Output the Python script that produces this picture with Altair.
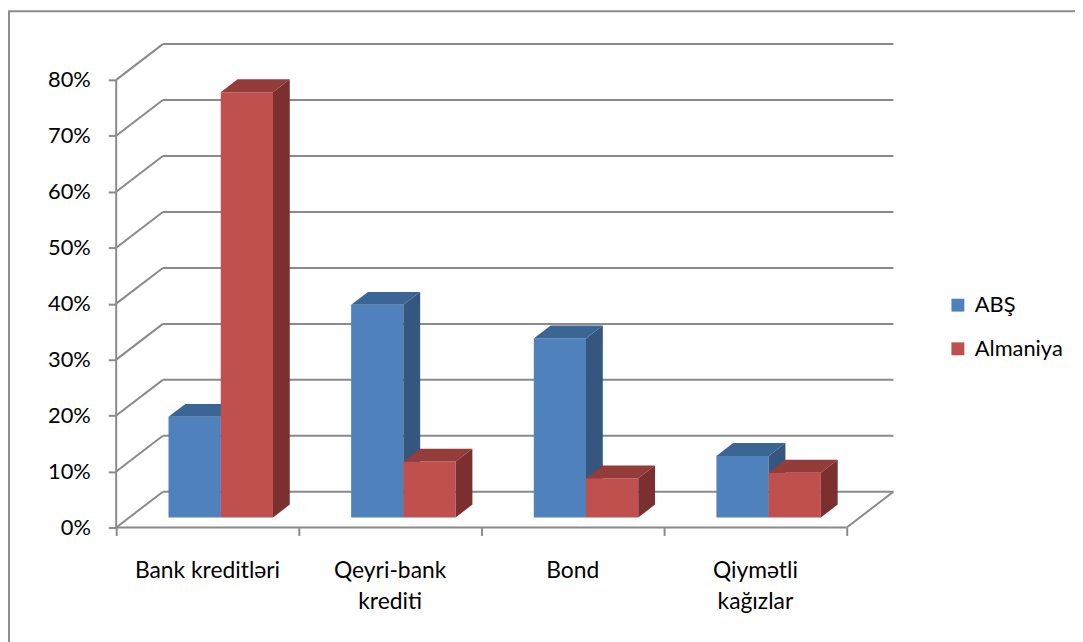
import altair as alt
import pandas as pd

# ---- data ----
categories = ["Bank kreditləri", "Qeyri-bank\nkrediti", "Bond", "Qiymətli\nkağızlar"]
series = ["ABŞ", "Almaniya"]
abs_values = [18, 38, 32, 11]
almaniya_values = [76, 10, 7, 8]
y_ticks = [0, 10, 20, 30, 40, 50, 60, 70, 80]

# ---- style / geometry ----
FRONT = {"ABŞ": "#4F81BD", "Almaniya": "#C0504D"}
TOP = {"ABŞ": "#3B6592", "Almaniya": "#943C3A"}
SIDE = {"ABŞ": "#34567F", "Almaniya": "#7B302F"}
GRID = "#8A8A8A"
FONT = "Lato"
FS = 22

PX_UNIT = 184.0         # pixels per category
DEPTH_X_PX = 47.0
DEPTH_Y_PX = 36.0
W = 4 * PX_UNIT + DEPTH_X_PX
H = 487
PX_PCT = (H - DEPTH_Y_PX) / 80.0
DX = DEPTH_X_PX / PX_UNIT
DY = DEPTH_Y_PX / PX_PCT
XMAX = len(categories) + DX
YMAX = 80 + DY
F0, F1 = 0.28, 0.64      # bar front / back depth fractions
GL = 0.215               # group left offset within category
BW = 0.286               # bar width (category units)

xs = alt.Scale(domain=[0, XMAX], nice=False, zero=False, padding=0)
ys = alt.Scale(domain=[0, YMAX], nice=False, zero=False, padding=0)
xaxis = alt.Axis(values=[0, 1, 2, 3, 4], labels=False, domain=False, grid=False,
                 tickSize=8, tickColor=GRID, tickWidth=2, title=None)
yaxis = alt.Axis(values=y_ticks, labelExpr="datum.value + '%'", domain=False, grid=False,
                 tickSize=8, tickColor=GRID, tickWidth=2, labelPadding=18, title=None,
                 labelFont=FONT, labelFontSize=FS, labelColor="#000000")

# ---- frame segments (grid walls, floor, axis) ----
seg = []
for v in y_ticks:
    seg.append(dict(x=DX, x2=len(categories) + DX, y=v + DY, y2=v + DY))  # back wall
    seg.append(dict(x=0, x2=DX, y=v, y2=v + DY))                           # side wall
seg.append(dict(x=0, x2=len(categories), y=0, y2=0))                       # floor front
seg.append(dict(x=len(categories), x2=len(categories) + DX, y=0, y2=DY))   # floor right
seg.append(dict(x=0, x2=0, y=0, y2=80))                                    # y axis line
seg_df = pd.DataFrame(seg)

segments = alt.Chart(seg_df).mark_rule(color=GRID, strokeWidth=2).encode(
    x=alt.X("x:Q", scale=xs, axis=xaxis),
    x2="x2:Q",
    y=alt.Y("y:Q", scale=ys, axis=yaxis),
    y2="y2:Q",
)

lab_df = pd.DataFrame({"x": [i + 0.5 for i in range(len(categories))], "label": categories})
labels = alt.Chart(lab_df).mark_text(
    font=FONT, fontSize=23, color="#000000", lineBreak="\n", lineHeight=31,
    baseline="alphabetic", align="center"
).encode(
    x=alt.X("x:Q", scale=xs, axis=xaxis),
    y=alt.value(H + 51),
    text="label:N",
)

border = alt.Chart(pd.DataFrame({"a": [0]})).mark_rect(
    filled=False, stroke="#8C8C8C", strokeWidth=2
).encode(
    x=alt.value(-108), x2=alt.value(W + 300), y=alt.value(-33), y2=alt.value(H + 300)
)

color_scale = alt.Scale(domain=series, range=[FRONT[s] for s in series])
legend = alt.Legend(
    orient="none", legendX=837, legendY=252, symbolType="square", symbolSize=169,
    symbolStrokeWidth=0, labelFont=FONT, labelFontSize=FS, labelColor="#000000",
    labelOffset=6, rowPadding=22, padding=0, title=None
)

layers = [border, segments, labels]
values = {"ABŞ": abs_values, "Almaniya": almaniya_values}
for si, s in enumerate(series):
    fr, tp, sd = [], [], []
    for i, v in enumerate(values[s]):
        x0 = i + GL + si * BW + F0 * DX
        x1 = x0 + BW
        fid = f"{s}-{i}"
        fr.append(dict(series=s, x0=x0, x1=x1, y0=F0 * DY, y1=v + F0 * DY))
        tp.append(dict(face=fid, y=v + F0 * DY, xa=x0, xb=x1))
        tp.append(dict(face=fid, y=v + F1 * DY, xa=x0 + (F1 - F0) * DX, xb=x1 + (F1 - F0) * DX))
        sd.append(dict(face=fid, x=x1, ya=F0 * DY, yb=v + F0 * DY))
        sd.append(dict(face=fid, x=x1 + (F1 - F0) * DX, ya=F1 * DY, yb=v + F1 * DY))
    front = alt.Chart(pd.DataFrame(fr)).mark_rect().encode(
        x=alt.X("x0:Q", scale=xs, axis=xaxis),
        x2="x1:Q",
        y=alt.Y("y0:Q", scale=ys, axis=yaxis),
        y2="y1:Q",
        color=alt.Color("series:N", scale=color_scale, legend=legend),
    )
    top = alt.Chart(pd.DataFrame(tp)).mark_area(orient="horizontal", color=TOP[s]).encode(
        y=alt.Y("y:Q", scale=ys, axis=yaxis),
        x=alt.X("xa:Q", scale=xs, axis=xaxis),
        x2="xb:Q",
        detail="face:N",
    )
    side = alt.Chart(pd.DataFrame(sd)).mark_area(orient="vertical", color=SIDE[s]).encode(
        x=alt.X("x:Q", scale=xs, axis=xaxis),
        y=alt.Y("ya:Q", scale=ys, axis=yaxis),
        y2="yb:Q",
        detail="face:N",
    )
    layers += [front, top, side]

chart = alt.layer(*layers).properties(
    width=W, height=H,
    autosize=alt.AutoSizeParams(type="none"),
    padding={"left": 109, "top": 34, "right": 1075 - 109 - W, "bottom": 634 - 34 - H},
).configure(font=FONT).configure_view(stroke=None)

chart.save("out.html", embed_options={"renderer": "svg", "actions": False})
